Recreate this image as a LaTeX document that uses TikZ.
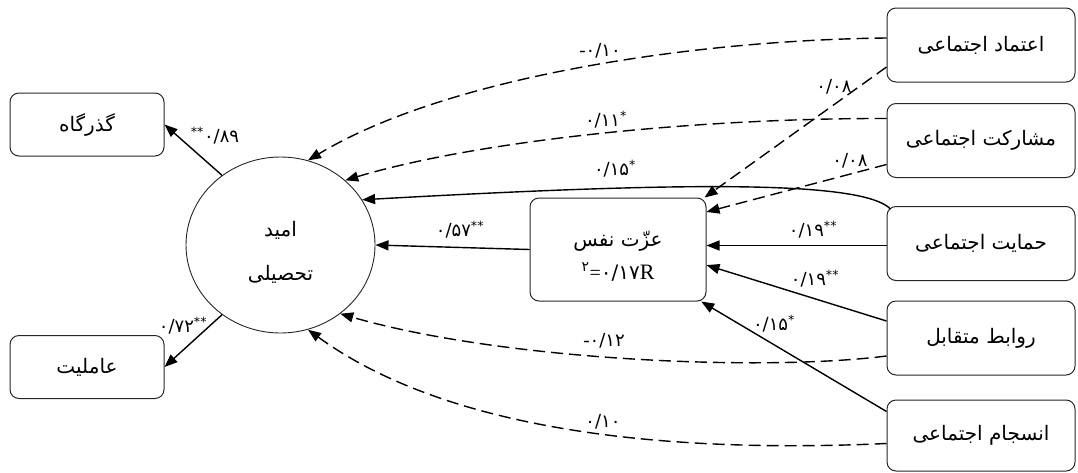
\documentclass[tikz,border=0pt]{standalone}
\usepackage{fontspec}
\usetikzlibrary{arrows.meta,calc,shapes.geometric}
\setmainfont{Liberation Serif}
\newfontfamily\arabicfont[Script=Arabic]{DejaVu Sans}
\TeXXeTstate=1
\newcommand{\mns}{{\rmfamily\fontsize{19}{20}\selectfont -}}
\begin{document}
\begin{tikzpicture}[x=1pt,y=-1pt,
  box/.style={draw=black!85, line width=1pt, rounded corners=9pt, inner sep=0pt,
    font=\arabicfont\fontsize{20}{22}\selectfont},
  rbox/.style={box, minimum width=188pt, minimum height=74pt},
  lbox/.style={box, minimum width=154pt, minimum height=63pt},
  txt/.style={inner sep=0pt, align=center, font=\arabicfont\fontsize{20}{22}\selectfont},
  lab/.style={font=\arabicfont\fontsize{18}{20}\selectfont, inner sep=1pt},
  conn/.style={line width=1.4pt, -{Triangle[length=13pt,width=10pt]}},
  dsh/.style={conn, dash pattern=on 12pt off 6pt}]
\useasboundingbox (0,0) rectangle (1078,472);

% left boxes
\node[lbox] (gate) at (87,124.5) {\beginR گذرگاه\endR};
\node[lbox] (agency) at (87,367) {\beginR عاملیت\endR};

% hope ellipse
\node[draw=black!85, line width=0.9pt, ellipse, minimum width=189pt, minimum height=176pt,
  inner sep=0pt] (hope) at (280.5,245) {};
\node[txt] (hopetxt) at (280.5,252) {\beginR امید\endR\\[22pt]\beginR تحصیلی\endR};

% self-esteem
\node[box, minimum width=176pt, minimum height=103pt] (esteem) at (618,249.5) {};
\node[txt] (esteemtxt) at (618,256)
  {\beginR عزّت نفس\endR\\[11pt]\textsuperscript{۲}{\rmfamily\fontsize{20}{22}\selectfont =}۰/۱۷{\rmfamily\fontsize{22}{22}\selectfont R}};

% right boxes
\node[rbox] (trust) at (981,45) {\beginR اعتماد اجتماعی\endR};
\node[rbox] (part) at (981,140.5) {\beginR مشارکت اجتماعی\endR};
\node[rbox] (support) at (981,243.5) {\beginR حمایت اجتماعی\endR};
\node[rbox] (rel) at (981,338) {\beginR روابط متقابل\endR};
\node[rbox, minimum height=71pt] (coh) at (981,435.5) {\beginR انسجام اجتماعی\endR};

% connectors
\draw[conn] (hope.130) -- (gate.east);
\draw[conn] (hope.230) -- (agency.east);
\draw[conn] (esteem.west) -- (hope.east);

\draw[dsh] ($(trust.west)+(0,-7)$) .. controls (700,40) and (450,75) .. (hope.72);
\draw[dsh] ($(trust.west)+(0,22)$) -- (esteem.31);
\draw[dsh] ($(part.west)+(0,-22)$) .. controls (700,118) and (480,140) .. (hope.45);
\draw[dsh] ($(part.west)+(0,24)$) -- (esteem.23);
\draw[conn] ($(support.north west)+(4,3)$) .. controls (862,180) and (680,182) .. (hope.29);
\draw[conn] ($(support.west)+(0,2)$) -- ($(esteem.east)+(0,-4)$);
\draw[conn] ($(rel.west)+(0,-17)$) -- (esteem.350);
\draw[dsh] ($(rel.west)+(0,18)$) .. controls (760,372) and (500,360) .. (hope.311);
\draw[conn] ($(coh.west)+(0,-24)$) -- (esteem.328);
\draw[dsh] ($(coh.west)+(0,8)$) .. controls (700,452) and (460,440) .. (hope.288);

% labels
\node[lab] (l1) at (215,136) {\textsuperscript{**}۰/۸۹};
\node[lab] (l2) at (183,326) {۰/۷۲\textsuperscript{**}};
\node[lab] (l3) at (460,230) {۰/۵۷\textsuperscript{**}};
\node[lab] (l4) at (813,230) {۰/۱۹\textsuperscript{**}};
\node[lab] (l5) at (815,279) {۰/۱۹\textsuperscript{**}};
\node[lab] (l6) at (774,324) {۰/۱۵\textsuperscript{*}};
\node[lab] (l7) at (600,51) {\mns\mbox{۰/۱۰}};
\node[lab] (l8) at (834,87) {۰/۰۸};
\node[lab] (l9) at (606,120) {۰/۱۱\textsuperscript{*}};
\node[lab] (l10) at (850,161) {۰/۰۸};
\node[lab] (l11) at (615,169) {۰/۱۵\textsuperscript{*}};
\node[lab] (l12) at (604,341) {\mns\mbox{۰/۱۲}};
\node[lab] (l13) at (603,422) {۰/۱۰};
\end{tikzpicture}
\end{document}
